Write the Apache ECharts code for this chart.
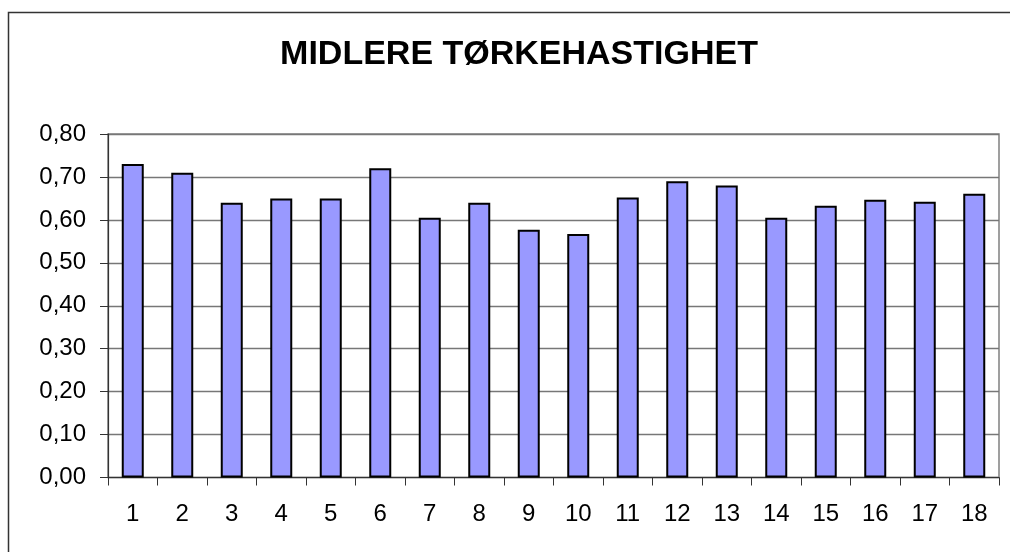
<!DOCTYPE html>
<html>
<head>
<meta charset="utf-8">
<script src="https://cdn.jsdelivr.net/npm/echarts@6/dist/echarts.min.js"></script>
<style>
  html, body { margin: 0; padding: 0; background: #fff; }
  #main { width: 1010px; height: 552px; }
</style>
</head>
<body>
<div id="main"></div>
<script>
// data
var categories = ['1','2','3','4','5','6','7','8','9','10','11','12','13','14','15','16','17','18'];
var values = [0.73, 0.71, 0.64, 0.65, 0.65, 0.72, 0.605, 0.64, 0.577, 0.567, 0.652, 0.69, 0.68, 0.605, 0.633, 0.647, 0.642, 0.661];
var yTicks = [0, 0.8, 0.1]; // min, max, step

var chart = echarts.init(document.getElementById('main'));
var fontFamily = '"Liberation Sans", Arial, sans-serif';

var option = {
  backgroundColor: '#fff',
  animation: false,
  title: {
    text: 'MIDLERE TØRKEHASTIGHET',
    left: 514,
    textAlign: 'center',
    top: 33,
    textStyle: {
      fontFamily: fontFamily,
      fontSize: 34,
      fontWeight: 'bold',
      color: '#000'
    }
  },
  graphic: [{
    type: 'rect',
    shape: { x: 8.5, y: 12.5, width: 1100, height: 600 },
    style: { fill: 'none', stroke: '#333', lineWidth: 1.5 },
    z: -1
  }],
  grid: {
    left: 108,
    right: 11,
    top: 134,
    bottom: 74.5,
    show: true,
    borderColor: '#808080',
    borderWidth: 1.5,
    backgroundColor: '#fff'
  },
  xAxis: {
    type: 'category',
    data: categories,
    boundaryGap: true,
    axisLine: { lineStyle: { color: '#333', width: 1.2 } },
    axisTick: { show: true, length: 8, alignWithLabel: false, lineStyle: { color: '#333' } },
    axisLabel: {
      margin: 25,
      color: '#000',
      fontFamily: fontFamily,
      fontSize: 24
    },
    splitLine: { show: false }
  },
  yAxis: {
    type: 'value',
    min: yTicks[0],
    max: yTicks[1],
    interval: yTicks[2],
    axisLine: { show: true, lineStyle: { color: '#333', width: 1.2 } },
    axisTick: { show: true, length: 8, lineStyle: { color: '#333' } },
    axisLabel: {
      margin: 22,
      color: '#000',
      fontFamily: fontFamily,
      fontSize: 24,
      formatter: function (v) { return v.toFixed(2).replace('.', ','); }
    },
    splitLine: { show: true, lineStyle: { color: '#777', width: 1.3 } }
  },
  series: [{
    type: 'bar',
    data: values,
    barWidth: 22,
    itemStyle: {
      color: '#9999FF',
      borderColor: '#000',
      borderWidth: 2
    }
  }]
};

chart.setOption(option);
</script>
</body>
</html>
